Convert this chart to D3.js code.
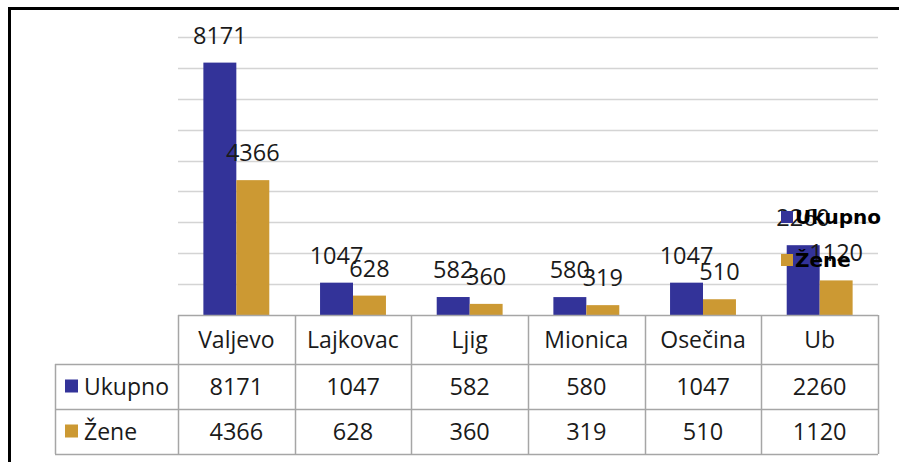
<!DOCTYPE html>
<html>
  <head>
    <meta charset="utf-8" />
    <title>Ukupno i Žene po opštinama</title>
    <script src="https://d3js.org/d3.v7.min.js" charset="utf-8"></script>
    <style>
      html,
      body {
        margin: 0;
        padding: 0;
        background-color: #ffffff;
      }
      svg {
        display: block;
      }
    </style>
  </head>
  <body>
    <svg id="chart"></svg>

    <script>
      // Data
      const categories = ["Valjevo", "Lajkovac", "Ljig", "Mionica", "Osečina", "Ub"];
      const seriesNames = ["Ukupno", "Žene"];
      const ukupno = [8171, 1047, 582, 580, 1047, 2260];
      const zene = [4366, 628, 360, 319, 510, 1120];
      const gridTicks = [1000, 2000, 3000, 4000, 5000, 6000, 7000, 8000, 9000];

      const seriesValues = [ukupno, zene];
      const colors = ["#333399", "#cc9933"];

      // SVG size
      const width = 899;
      const height = 462;

      // plot area
      const plotLeft = 178;
      const plotRight = 878;
      const plotTop = 37;
      const baseline = 315;

      // table rows
      const headerBottom = 364;
      const rowHeight = 45;
      const tableLeft = 55;

      const textFont = "'Open Sans', 'Noto Sans', sans-serif";

      const svg = d3
        .select("#chart")
        .attr("width", width)
        .attr("height", height);

      // frame
      svg
        .append("rect")
        .attr("x", 9.5)
        .attr("y", 8.5)
        .attr("width", 920)
        .attr("height", 500)
        .attr("fill", "none")
        .attr("stroke", "#000")
        .attr("stroke-width", 3);

      // scales
      const x0 = d3.scaleBand().domain(categories).range([plotLeft, plotRight]);
      const x1 = d3
        .scaleBand()
        .domain(seriesNames)
        .range([0, x0.bandwidth()])
        .paddingOuter(0.77);
      const y = d3.scaleLinear().domain([0, 9000]).range([baseline, plotTop]);

      // gridlines
      svg
        .append("g")
        .selectAll("line")
        .data(gridTicks)
        .join("line")
        .attr("x1", plotLeft)
        .attr("x2", plotRight)
        .attr("y1", (d) => Math.round(y(d)) + 0.5)
        .attr("y2", (d) => Math.round(y(d)) + 0.5)
        .attr("stroke", "#d4d4d4")
        .attr("stroke-width", 1.5);

      // bars
      const groups = svg
        .append("g")
        .selectAll("g")
        .data(categories)
        .join("g")
        .attr("transform", (d) => `translate(${x0(d)},0)`);

      groups
        .selectAll("rect")
        .data((d, i) => seriesNames.map((s, j) => ({ s, v: seriesValues[j][i], j })))
        .join("rect")
        .attr("x", (d) => x1(d.s))
        .attr("y", (d) => y(d.v))
        .attr("width", x1.bandwidth())
        .attr("height", (d) => baseline - y(d.v))
        .attr("fill", (d) => colors[d.j]);

      // value labels above bars
      groups
        .selectAll("text")
        .data((d, i) => seriesNames.map((s, j) => ({ s, v: seriesValues[j][i] })))
        .join("text")
        .attr("x", (d) => x1(d.s) + x1.bandwidth() / 2)
        .attr("y", (d) => y(d.v) - 19)
        .attr("text-anchor", "middle")
        .attr("font-family", textFont)
        .attr("font-size", 23.5)
        .attr("fill", "#1a1a1a")
        .text((d) => d.v);

      // legend (sits over the Ub labels, like the original)
      const legend = svg.append("g");
      seriesNames.forEach((s, j) => {
        const ly = 211 + j * 43;
        legend
          .append("rect")
          .attr("x", 781)
          .attr("y", ly)
          .attr("width", 12)
          .attr("height", 12)
          .attr("fill", colors[j]);
        legend
          .append("text")
          .attr("x", 795)
          .attr("y", ly + 13)
          .attr("font-family", "'DejaVu Sans', sans-serif")
          .attr("font-weight", "bold")
          .attr("font-size", 20)
          .attr("fill", "#000")
          .text(s);
      });

      // data table
      const table = svg.append("g");
      const lineColor = "#a6a6a6";
      const tableBottom = headerBottom + rowHeight * 2;

      // horizontal lines
      table
        .append("line")
        .attr("x1", plotLeft)
        .attr("x2", plotRight)
        .attr("y1", baseline + 0.5)
        .attr("y2", baseline + 0.5);
      [headerBottom, headerBottom + rowHeight, tableBottom].forEach((ly) => {
        table
          .append("line")
          .attr("x1", tableLeft)
          .attr("x2", plotRight)
          .attr("y1", ly + 0.5)
          .attr("y2", ly + 0.5);
      });

      // vertical lines
      table
        .append("line")
        .attr("x1", tableLeft + 0.5)
        .attr("x2", tableLeft + 0.5)
        .attr("y1", headerBottom)
        .attr("y2", tableBottom);
      categories.concat(["end"]).forEach((c) => {
        const lx = c === "end" ? plotRight : x0(c);
        table
          .append("line")
          .attr("x1", Math.round(lx) + 0.5)
          .attr("x2", Math.round(lx) + 0.5)
          .attr("y1", baseline)
          .attr("y2", tableBottom);
      });
      table.selectAll("line").attr("stroke", lineColor).attr("stroke-width", 1.5);

      // header labels
      table
        .selectAll(".head")
        .data(categories)
        .join("text")
        .attr("class", "head")
        .attr("x", (d) => x0(d) + x0.bandwidth() / 2)
        .attr("y", (baseline + headerBottom) / 2 + 8.5)
        .attr("text-anchor", "middle")
        .attr("font-family", textFont)
        .attr("font-size", 23)
        .attr("fill", "#1a1a1a")
        .text((d) => d);

      // rows
      seriesNames.forEach((s, j) => {
        const cy = headerBottom + rowHeight * j + rowHeight / 2;
        table
          .append("rect")
          .attr("x", 65)
          .attr("y", cy - 7)
          .attr("width", 13)
          .attr("height", 13)
          .attr("fill", colors[j]);
        table
          .append("text")
          .attr("x", 84)
          .attr("y", cy + 8.5)
          .attr("font-family", textFont)
          .attr("font-size", 23)
          .attr("fill", "#1a1a1a")
          .text(s);
        table
          .append("g")
          .selectAll("text")
          .data(seriesValues[j])
          .join("text")
          .attr("x", (d, i) => x0(categories[i]) + x0.bandwidth() / 2)
          .attr("y", cy + 8.5)
          .attr("text-anchor", "middle")
          .attr("font-family", textFont)
          .attr("font-size", 23.5)
          .attr("fill", "#1a1a1a")
          .text((d) => d);
      });
    </script>
  </body>
</html>
